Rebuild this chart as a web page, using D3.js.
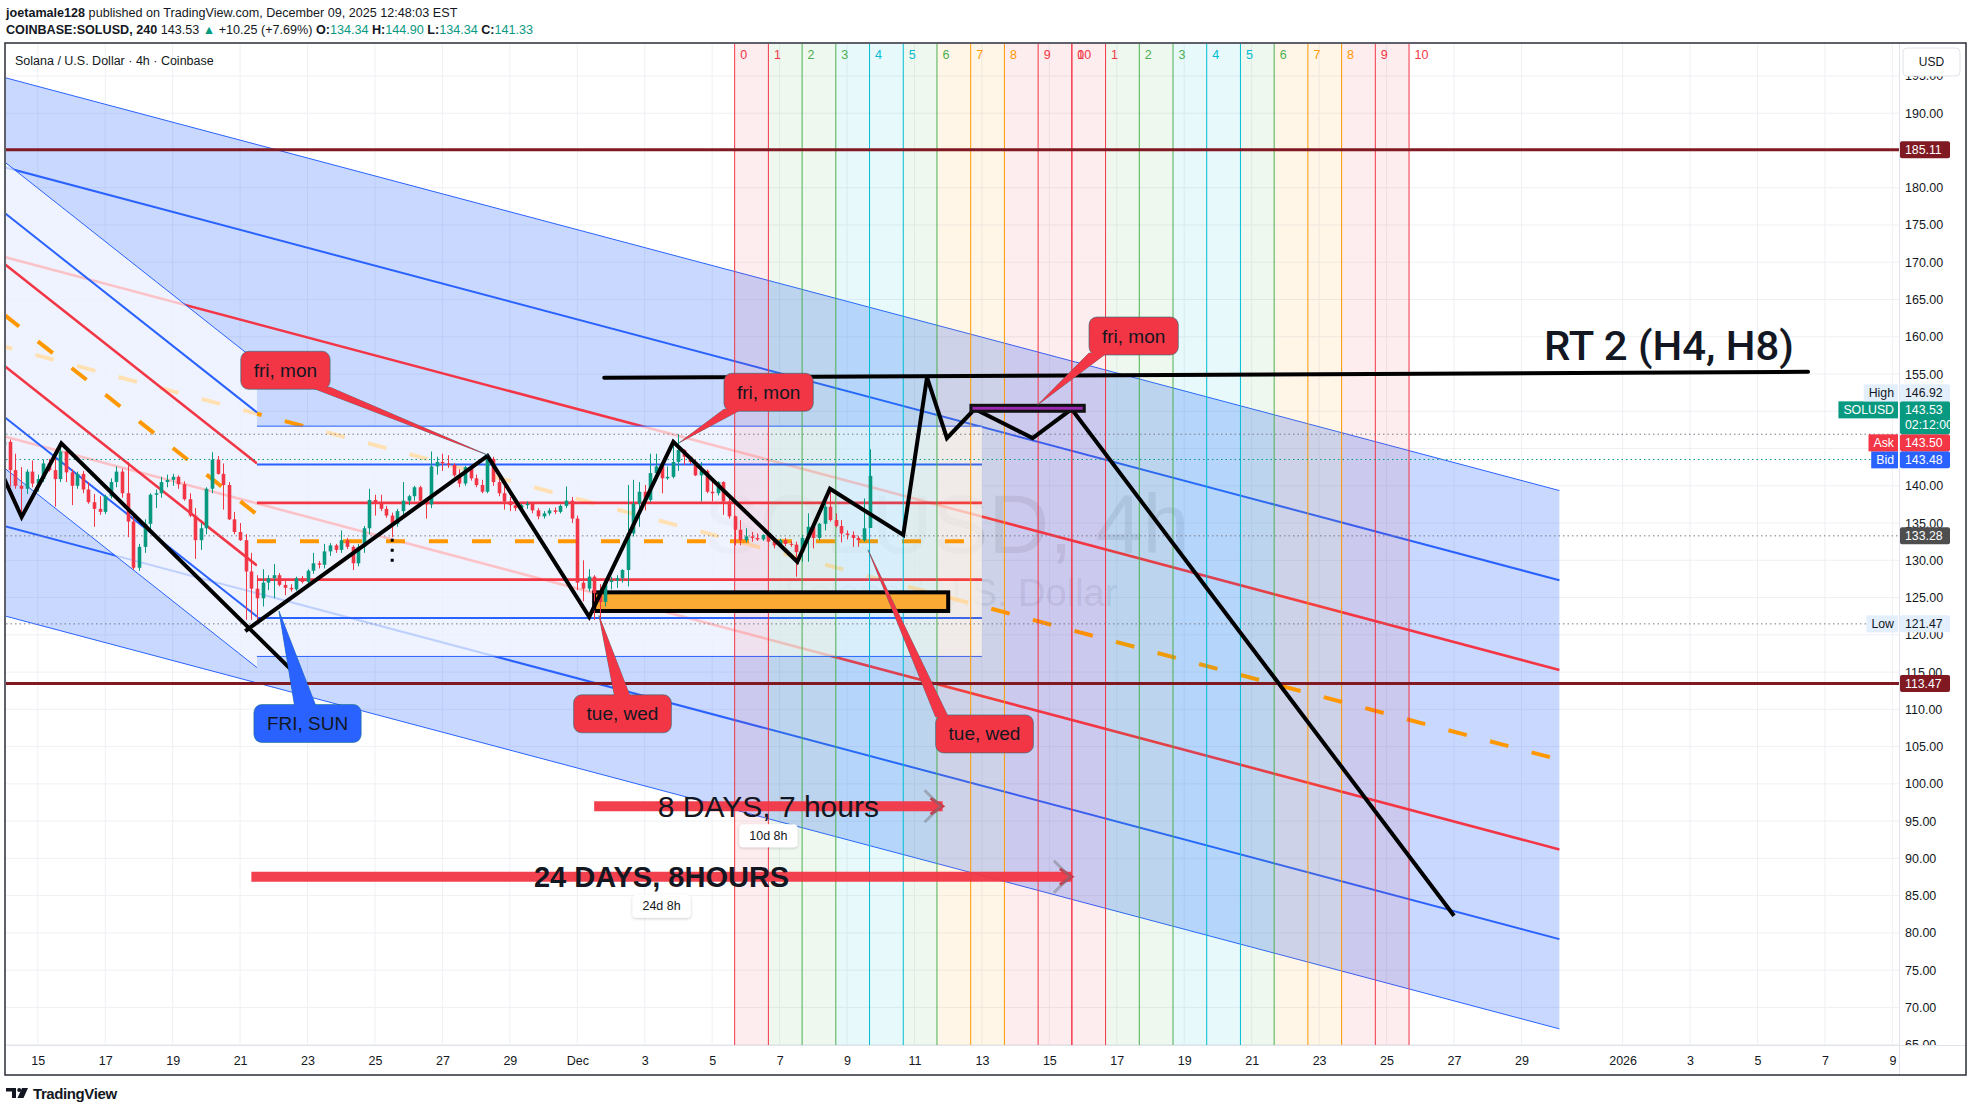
<!DOCTYPE html>
<html><head><meta charset="utf-8">
<script src="https://cdn.jsdelivr.net/npm/d3@7/dist/d3.min.js"></script>
<style>
html,body{margin:0;padding:0;background:#fff;}
svg{display:block;font-family:"Liberation Sans",Arial,sans-serif;}
</style></head><body>
<svg id="chart" width="1972" height="1112"></svg>
<script>
// ================= DATA =================
const candleStart = "2025-11-14 00:00";   // first 4h bar shown
const barHours = 4;
// [open, high, low, close] per 4h bar
const ohlc = [
[145.5,146.6,143.8,145.9],[145.9,146.2,139.9,142.1],[142.1,144.3,139.6,140.0],[140.0,142.5,135.8,139.6],
[139.6,142.2,138.9,141.9],[141.9,143.4,139.8,140.3],[140.3,141.5,139.2,140.9],[140.9,143.5,140.5,143.0],
[143.0,143.6,141.9,142.1],[142.1,144.6,137.2,140.9],[140.9,145.7,140.5,144.6],[144.6,144.9,140.5,141.8],
[141.8,142.2,137.4,140.0],[140.0,141.9,139.6,141.6],[141.6,142.0,139.0,139.5],[139.5,140.5,137.6,137.8],
[137.8,138.9,134.5,136.9],[136.9,138.6,136.1,136.5],[136.5,138.8,136.2,138.6],[138.6,141.0,138.3,140.5],
[140.5,142.6,139.8,141.9],[141.9,142.3,138.4,139.0],[139.0,143.2,133.1,135.2],[135.2,135.9,128.7,129.0],
[129.0,132.2,128.6,131.8],[131.8,135.5,131.0,134.9],[134.9,139.0,134.2,138.8],[138.8,139.5,137.0,139.0],
[139.0,141.2,138.4,140.5],[140.5,141.5,139.8,140.8],[140.8,141.6,140.0,141.2],[141.2,141.4,139.6,140.2],
[140.2,140.6,138.0,138.2],[138.2,139.0,135.8,136.0],[136.0,137.0,130.2,132.7],[132.7,135.0,131.4,134.3],
[134.3,139.8,133.5,139.6],[139.6,144.5,139.0,143.5],[143.5,144.0,141.5,141.6],[141.6,143.0,136.8,140.1],
[140.1,140.5,135.4,135.5],[135.5,136.5,133.5,133.8],[133.8,135.0,132.6,132.7],[132.7,133.5,122.0,128.5],
[128.5,131.0,122.0,126.2],[126.2,128.0,121.47,124.9],[124.9,128.8,123.8,127.0],[127.0,128.0,126.0,127.6],
[127.6,129.5,124.9,128.0],[128.0,128.3,126.5,126.7],[126.7,127.2,125.3,126.3],[126.3,126.8,125.8,126.1],
[126.1,127.8,125.9,127.6],[127.6,127.9,126.9,127.1],[127.1,128.8,126.6,128.6],[128.6,131.0,128.2,129.6],
[129.6,129.9,128.9,129.4],[129.4,132.2,128.9,131.2],[131.2,132.3,130.6,132.0],[132.0,132.2,131.0,131.4],
[131.4,134.0,131.0,132.7],[132.7,133.0,131.5,131.8],[131.8,132.0,128.7,129.6],[129.6,132.2,129.2,131.8],
[131.8,134.6,131.0,134.3],[134.3,139.6,133.5,138.1],[138.1,138.8,136.0,137.8],[137.8,138.8,136.6,136.9],
[136.9,137.3,135.7,136.0],[136.0,136.4,133.1,134.9],[134.9,136.9,134.5,136.6],[136.6,140.5,136.0,138.0],
[138.0,138.8,137.4,138.6],[138.6,140.0,138.0,139.8],[139.8,140.0,137.9,138.0],[138.0,138.2,135.6,137.5],
[137.5,144.6,137.0,142.6],[142.6,143.9,141.5,143.2],[143.2,144.3,142.0,143.0],[143.0,144.1,142.4,142.8],
[142.8,143.0,141.2,141.4],[141.4,142.2,139.8,140.3],[140.3,142.7,140.0,142.5],[142.5,142.8,140.7,141.0],
[141.0,141.5,139.8,140.1],[140.1,140.8,139.0,139.2],[139.2,144.0,139.0,143.6],[143.6,143.9,140.0,140.5],
[140.5,141.5,138.6,139.0],[139.0,140.2,136.8,137.9],[137.9,138.5,136.6,137.4],[137.4,137.7,136.6,137.0],
[137.0,137.6,136.8,137.4],[137.4,137.9,136.9,137.6],[137.6,137.8,136.3,136.7],[136.7,137.0,135.5,135.9],
[135.9,136.6,135.6,136.3],[136.3,137.0,136.0,136.7],[136.7,137.1,136.2,136.5],[136.5,137.5,136.3,137.3],
[137.3,139.9,137.0,138.0],[138.0,138.5,135.0,135.6],[135.6,136.0,126.0,127.0],[127.0,130.0,124.5,126.2],
[126.2,128.8,125.8,127.8],[127.8,128.0,122.0,125.6],[125.6,126.8,122.0,124.4],[124.4,127.4,123.8,127.1],
[127.1,127.8,126.1,127.3],[127.3,128.0,126.3,127.6],[127.6,128.8,127.0,128.7],[128.7,140.1,126.5,133.6],
[133.6,140.8,133.2,137.6],[137.6,140.5,134.5,139.2],[139.2,140.1,136.7,138.1],[138.1,144.3,137.8,141.7],
[141.7,144.3,141.0,142.6],[142.6,142.7,139.0,141.0],[141.0,142.6,140.8,141.2],[141.2,145.9,141.0,143.2],
[143.2,146.92,142.0,144.8],[144.8,144.9,142.8,143.9],[143.9,144.0,142.9,143.2],[143.2,143.5,141.3,141.4],
[141.4,143.2,137.9,142.0],[142.0,142.2,139.0,139.2],[139.2,140.8,137.9,139.0],[139.0,140.6,138.7,140.5],
[140.5,140.6,136.1,137.9],[137.9,138.8,135.6,135.9],[135.9,136.0,132.0,134.1],[134.1,135.4,132.0,132.7],
[132.7,134.3,132.4,133.2],[133.2,133.8,132.5,133.0],[133.0,133.6,132.6,132.8],[132.8,133.5,132.6,133.4],
[133.4,133.6,132.4,132.5],[132.5,133.0,131.6,132.0],[132.0,132.9,131.8,132.7],[132.7,133.0,131.9,132.2],
[132.2,132.6,131.8,132.1],[132.1,132.5,127.8,131.1],[131.1,133.4,129.8,133.0],[133.0,136.3,129.8,134.5],
[134.5,134.6,131.6,133.0],[133.0,135.0,132.7,134.9],[134.9,137.8,134.0,137.2],[137.2,139.2,135.2,135.4],
[135.4,136.3,134.4,134.6],[134.6,135.4,132.4,133.6],[133.6,134.0,132.8,133.4],[133.4,133.9,131.8,133.0],
[133.0,133.3,131.8,132.7],[132.7,138.3,132.5,134.3],[134.34,144.90,134.34,141.33]
];

const timeTickDates = ["2025-11-15","2025-11-17","2025-11-19","2025-11-21","2025-11-23","2025-11-25","2025-11-27","2025-11-29",
  "2025-12-01","2025-12-03","2025-12-05","2025-12-07","2025-12-09","2025-12-11","2025-12-13","2025-12-15","2025-12-17",
  "2025-12-19","2025-12-21","2025-12-23","2025-12-25","2025-12-27","2025-12-29","2026-01-01","2026-01-03","2026-01-05",
  "2026-01-07","2026-01-09"];
const timeTickLabels = ["15","17","19","21","23","25","27","29","Dec","3","5","7","9","11","13","15","17","19","21","23","25","27","29","2026","3","5","7","9"];
const priceTicks = [65,70,75,80,85,90,95,100,105,110,115,120,125,130,135,140,145,150,155,160,165,170,175,180,185,190,195];

// channels: anchor times, top-line prices at those times, level offsets below top
const bigChTimes = ["2025-11-10 00:00","2025-12-30 03:00"];
const bigChTop = [199.61,139.36];
const bigChOffsets = [0,12.04,24.08,36.12,48.16,60.2,72.24];
const steepChTimes = ["2025-11-10 00:00","2025-11-21 12:00"];
const steepChTop = [197.82,156.7];
const steepChOffsets = [0,6.85,13.7,20.55,27.4,34.25,41.1];
const boxChTimes = ["2025-11-21 12:00","2025-12-13 00:00"];
const boxChTop = [148.0,148.0];
const boxChOffsets = [0,5.15,10.3,15.45,20.6,25.75,30.9];

// cycle lines
const cycleStarts = ["2025-12-05 16:00","2025-12-15 16:00"];
const cycleStepHours = 24;
const cycleLabels = ["0","1","2","3","4","5","6","7","8","9","10"];
const cycleColors = ["#f23645","#f23645","#4caf50","#4caf50","#00bcd4","#00bcd4","#4caf50","#ff9800","#ff9800","#f23645","#f23645"];

// horizontal levels
const hLevels = [185.11,113.47];
const dottedLevels = [146.92,143.53,133.28,121.47];
const dottedColors = ["#787b86","#089981","#787b86","#787b86"];

// hand-drawn paths
const zigzagA = [["2025-11-14 00:00",141.0],["2025-11-14 12:30",135.8],["2025-11-15 16:45",145.7],["2025-11-22 16:15",114.6]];
const zigzagB = [["2025-11-21 03:40",120.5],["2025-11-28 08:05",144.0],["2025-12-01 08:30",122.4],["2025-12-03 20:20",145.9],
  ["2025-12-07 12:35",129.8],["2025-12-08 11:50",139.6],["2025-12-10 16:00",133.4],["2025-12-11 08:55",154.55],
  ["2025-12-11 23:05",146.4],["2025-12-12 18:50",150.3],["2025-12-14 12:05",146.4],["2025-12-15 15:50",150.3],
  ["2025-12-27 00:00",82.3]];
const rt2Line = [["2025-12-01 19:10",154.5],["2026-01-06 12:00",155.3]];
const rt2Text = {t:"2025-12-29 16:00", p:156.87, text:"RT 2 (H4, H8)"};
const orangeBox = {t0:"2025-12-01 12:00", t1:"2025-12-12 00:00", p0:125.7, p1:123.2};
const purpleBox = {t0:"2025-12-12 16:10", t1:"2025-12-16 00:50", p0:150.8, p1:150.0};
const dotMark = {t:"2025-11-25 12:15", p0:132.9, p1:129.2};

const callouts = [
  {text:"fri, mon", t:"2025-11-22 08:15", p:155.5, tipT:"2025-11-28 08:30", tipP:144.1, edge:"bottom", base:[0.78,1.0], color:"#f23645"},
  {text:"fri, mon", t:"2025-12-06 16:10", p:152.55, tipT:"2025-12-04 00:30", tipP:145.77, edge:"bottom", base:[0.0,0.2], color:"#f23645"},
  {text:"fri, mon", t:"2025-12-17 12:00", p:160.1, tipT:"2025-12-14 15:35", tipP:150.83, edge:"bottom", base:[0.0,0.2], color:"#f23645"},
  {text:"FRI, SUN", t:"2025-11-23 00:00", p:108.1, tipT:"2025-11-22 03:40", tipP:123.2, edge:"top", base:[0.38,0.58], color:"#2962ff"},
  {text:"tue, wed", t:"2025-12-02 08:10", p:109.4, tipT:"2025-12-01 15:25", tipP:122.6, edge:"top", base:[0.42,0.58], color:"#f23645"},
  {text:"tue, wed", t:"2025-12-13 01:50", p:106.7, tipT:"2025-12-09 14:55", tipP:131.4, edge:"top", base:[0.0,0.13], color:"#f23645"}
];
const measures = [
  {t0:"2025-12-01 12:00", t1:"2025-12-11 20:00", p:97.0, text:"8 DAYS, 7 hours", bold:false, tag:"10d 8h"},
  {t0:"2025-11-21 08:00", t1:"2025-12-15 16:00", p:87.53, text:"24 DAYS, 8HOURS", bold:true, tag:"24d 8h"}
];
const axisLabels = [
  {p:185.11, text:"185.11", bg:"#801922", fg:"#ffffff"},
  {p:113.47, text:"113.47", bg:"#801922", fg:"#ffffff"},
  {p:133.28, text:"133.28", bg:"#4e4e4e", fg:"#ffffff"},
  {p:121.47, text:"121.47", bg:"#e3effd", fg:"#131722", tag:"Low"},
  {p:143.48, text:"143.48", bg:"#2962ff", fg:"#ffffff", tag:"Bid"},
  {p:143.50, text:"143.50", bg:"#f23645", fg:"#ffffff", tag:"Ask"},
  {p:143.53, text:"143.53", sub:"02:12:00", bg:"#089981", fg:"#ffffff", tag:"SOLUSD"},
  {p:146.92, text:"146.92", bg:"#e3effd", fg:"#131722", tag:"High"}
];

// ================= DRAW =================
const FONT = '"Liberation Sans", Arial, sans-serif';
const pane = {l:6, r:1899, t:44, b:1045};
const P = d3.utcParse("%Y-%m-%d %H:%M");
const P2 = d3.utcParse("%Y-%m-%d");
const x = d3.scaleUtc().domain([P("2025-12-01 00:00"), P("2026-01-01 00:00")]).range([577.3, 1622.6]);
const y = d3.scaleLinear().domain([190, 70]).range([113.2, 1007.4]);
const HOUR = 3600e3;

const levelStyles = [
  {c:"#2962ff", w:1}, {c:"#2962ff", w:2}, {c:"#f23645", w:2.6}, {c:"#ff9800", w:4, dash:"19 24"},
  {c:"#f23645", w:2.6}, {c:"#2962ff", w:2}, {c:"#2962ff", w:1}
];

const svg = d3.select("#chart");
const defs = svg.append("defs");
defs.append("clipPath").attr("id","pane").append("rect")
  .attr("x",pane.l).attr("y",pane.t).attr("width",pane.r-pane.l).attr("height",pane.b-pane.t);
defs.append("clipPath").attr("id","paxis").append("rect")
  .attr("x",pane.r).attr("y",pane.t).attr("width",66).attr("height",pane.b-pane.t);
const flt = defs.append("filter").attr("id","sh").attr("x","-30%").attr("y","-40%").attr("width","160%").attr("height","190%");
flt.append("feDropShadow").attr("dx",0).attr("dy",1).attr("stdDeviation",1.6).attr("flood-color","#000").attr("flood-opacity",0.2);

svg.append("rect").attr("width",1972).attr("height",1112).attr("fill","#fff");

const g = svg.append("g").attr("clip-path","url(#pane)");

// grid
timeTickDates.forEach(d=>{
  const xx = x(P2(d));
  g.append("line").attr("x1",xx).attr("x2",xx).attr("y1",pane.t).attr("y2",pane.b).attr("stroke","#eef0f4").attr("stroke-width",1);
});
priceTicks.forEach(p=>{
  g.append("line").attr("x1",pane.l).attr("x2",pane.r).attr("y1",y(p)).attr("y2",y(p)).attr("stroke","#eef0f4").attr("stroke-width",1);
});

// watermark
const wmx = (pane.l+pane.r)/2 - 6;
g.append("text").attr("x",wmx).attr("y",y(131.0)).attr("text-anchor","middle").attr("font-size",84)
  .attr("fill","rgba(42,46,57,0.11)").attr("font-family",FONT).text("SOLUSD, 4h");
g.append("text").attr("x",wmx+4).attr("y",y(123.9)).attr("text-anchor","middle").attr("font-size",38)
  .attr("fill","rgba(42,46,57,0.11)").attr("font-family",FONT).text("Solana / U.S. Dollar");

// channels
function channel(times, top, offsets, fill, op){
  const t0=P(times[0]), t1=P(times[1]);
  const n=offsets.length-1;
  const poly=[[x(t0),y(top[0])],[x(t1),y(top[1])],[x(t1),y(top[1]-offsets[n])],[x(t0),y(top[0]-offsets[n])]];
  g.append("path").attr("d","M"+poly.join("L")+"Z").attr("fill",fill).attr("fill-opacity",op);
  offsets.forEach((o,i)=>{
    const s=levelStyles[i];
    g.append("line").attr("x1",x(t0)).attr("y1",y(top[0]-o)).attr("x2",x(t1)).attr("y2",y(top[1]-o))
      .attr("stroke",s.c).attr("stroke-width",s.w).attr("stroke-dasharray",s.dash||null);
  });
}
channel(bigChTimes, bigChTop, bigChOffsets, "#2962ff", 0.25);
channel(steepChTimes, steepChTop, steepChOffsets, "#ffffff", 0.7);
channel(boxChTimes, boxChTop, boxChOffsets, "#ffffff", 0.7);

// cycle bands
cycleStarts.forEach(st=>{
  const t0=P(st).getTime();
  cycleLabels.forEach((lab,k)=>{
    if(k>0){
      const xk = x(new Date(t0+k*cycleStepHours*HOUR));
      const xp = x(new Date(t0+(k-1)*cycleStepHours*HOUR));
      g.append("rect").attr("x",xp).attr("y",pane.t).attr("width",xk-xp).attr("height",pane.b-pane.t)
        .attr("fill",cycleColors[k]).attr("fill-opacity",0.09);
    }
  });
});
cycleStarts.forEach(st=>{
  const t0=P(st).getTime();
  cycleLabels.forEach((lab,k)=>{
    const xk = x(new Date(t0+k*cycleStepHours*HOUR));
    g.append("line").attr("x1",xk).attr("x2",xk).attr("y1",pane.t).attr("y2",pane.b).attr("stroke",cycleColors[k]).attr("stroke-width",1);
    g.append("text").attr("x",xk+5.5).attr("y",58.5).attr("font-size",12.5).attr("fill",cycleColors[k]).attr("font-family",FONT).text(lab);
  });
});

// horizontal dark-red levels
hLevels.forEach(p=>{
  g.append("line").attr("x1",pane.l).attr("x2",pane.r).attr("y1",y(p)).attr("y2",y(p)).attr("stroke","#801922").attr("stroke-width",3);
});
// dotted price lines
dottedLevels.forEach((p,i)=>{
  g.append("line").attr("x1",pane.l).attr("x2",pane.r).attr("y1",y(p)).attr("y2",y(p))
    .attr("stroke",dottedColors[i]).attr("stroke-width",1).attr("stroke-dasharray","1.5 3");
});

// orange box
g.append("rect").attr("x",x(P(orangeBox.t0))).attr("y",y(orangeBox.p0))
  .attr("width",x(P(orangeBox.t1))-x(P(orangeBox.t0))).attr("height",y(orangeBox.p1)-y(orangeBox.p0))
  .attr("fill","#fbab34").attr("stroke","#000").attr("stroke-width",4);

// candles
const cs = P(candleStart).getTime();
const cg = g.append("g");
ohlc.forEach((d,i)=>{
  const [o,h,l,c]=d;
  const xx = Math.round(x(new Date(cs+i*barHours*HOUR)))+0.5;
  const col = c>=o ? "#089981" : "#f23645";
  cg.append("line").attr("x1",xx).attr("x2",xx).attr("y1",y(h)).attr("y2",y(l)).attr("stroke",col).attr("stroke-width",1);
  const yt=y(Math.max(o,c)), yb=y(Math.min(o,c));
  cg.append("rect").attr("x",xx-1.8).attr("y",yt).attr("width",3.6).attr("height",Math.max(1,yb-yt)).attr("fill",col);
});

// dotted black mark
g.append("line").attr("x1",x(P(dotMark.t))).attr("x2",x(P(dotMark.t))).attr("y1",y(dotMark.p0)).attr("y2",y(dotMark.p1))
  .attr("stroke","#000").attr("stroke-width",3).attr("stroke-dasharray","3 7");

// zigzags, RT2 line, purple box
const lineGen = d3.line().x(d=>x(P(d[0]))).y(d=>y(d[1]));
[zigzagA, zigzagB].forEach(z=>{
  g.append("path").attr("d",lineGen(z)).attr("fill","none").attr("stroke","#000").attr("stroke-width",4).attr("stroke-linejoin","miter");
});
g.append("path").attr("d",lineGen(rt2Line)).attr("fill","none").attr("stroke","#000").attr("stroke-width",4).attr("stroke-linecap","round");
g.append("rect").attr("x",x(P(purpleBox.t0))).attr("y",y(purpleBox.p0))
  .attr("width",x(P(purpleBox.t1))-x(P(purpleBox.t0))).attr("height",y(purpleBox.p1)-y(purpleBox.p0))
  .attr("fill","#9c27b0").attr("stroke","#111").attr("stroke-width",3);

// measures
measures.forEach(m=>{
  const x0=x(P(m.t0)), x1=x(P(m.t1)), yc=y(m.p), xm=(x0+x1)/2;
  g.append("line").attr("x1",x0).attr("x2",x1).attr("y1",yc).attr("y2",yc).attr("stroke","#f23645").attr("stroke-width",10).attr("stroke-opacity",0.95);
  g.append("path").attr("d",`M${x1-12},${yc-8}L${x1},${yc}L${x1-12},${yc+8}`).attr("fill","none").attr("stroke","#d62f3e").attr("stroke-width",3);
  g.append("path").attr("d",`M${x1-18},${yc-16}L${x1-2},${yc}L${x1-18},${yc+16}`).attr("fill","none").attr("stroke","rgba(120,123,134,0.5)").attr("stroke-width",3);
  g.append("text").attr("x",xm).attr("y",yc+10.5).attr("text-anchor","middle").attr("font-size",m.bold?29:30)
    .attr("font-weight",m.bold?"bold":"normal").attr("fill","#131722").attr("font-family",FONT).text(m.text);
  const tg=g.append("g");
  const tt=tg.append("text").attr("x",xm).attr("y",yc+33.5).attr("text-anchor","middle").attr("font-size",12.5).attr("fill","#131722").attr("font-family",FONT).text(m.tag);
  const tw=tt.node().getComputedTextLength();
  tg.insert("rect","text").attr("x",xm-tw/2-10).attr("y",yc+18).attr("width",tw+20).attr("height",23).attr("rx",4)
    .attr("fill","#fff").attr("filter","url(#sh)");
});

// callouts
callouts.forEach(c=>{
  const grp=g.append("g");
  const cx=x(P(c.t)), cy=y(c.p);
  const txt=grp.append("text").attr("x",cx).attr("y",cy+6.5).attr("text-anchor","middle").attr("font-size",19)
    .attr("fill","#131722").attr("font-family",FONT).text(c.text);
  const tw=txt.node().getComputedTextLength();
  const w=tw+26, h=38, L=cx-w/2, T=cy-h/2;
  const ey = c.edge==="bottom" ? T+h-2 : T+2;
  const b0=[L+w*c.base[0], ey], b1=[L+w*c.base[1], ey];
  const tip=[x(P(c.tipT)), y(c.tipP)];
  const ptr="M"+b0+"L"+tip+"L"+b1+"Z";
  grp.insert("path","text").attr("d",ptr).attr("fill",c.color).attr("stroke","rgba(20,110,120,0.55)").attr("stroke-width",1);
  grp.insert("rect","text").attr("x",L).attr("y",T).attr("width",w).attr("height",h).attr("rx",8)
    .attr("fill",c.color).attr("stroke","rgba(20,110,120,0.55)").attr("stroke-width",1);
  grp.insert("path","text").attr("d",ptr).attr("fill",c.color);
});

// RT2 text
g.append("text").attr("x",x(P(rt2Text.t))).attr("y",y(rt2Text.p)).attr("font-size",40).attr("font-weight",500)
  .attr("fill","#131722").attr("font-family",'Roboto, "Liberation Sans", Arial, sans-serif')
  .attr("textLength",250).attr("lengthAdjust","spacingAndGlyphs").text(rt2Text.text);

// ---------- price-axis label layout (stacked like the platform) ----------
const stack = axisLabels.map(a=>({...a, h: a.sub?33:17})).sort((a,b)=>a.p-b.p);
let prevTop = Infinity;
const placed=[];
stack.forEach(a=>{
  let c=y(a.p);
  if(c + a.h/2 > prevTop && Math.abs(c-prevTop)<40) c = prevTop - a.h/2;
  placed.push({...a, top:c-a.h/2});
  prevTop = c - a.h/2;
});
const hiddenTick = p => placed.some(a => y(p) > a.top-4 && y(p) < a.top+a.h+4 && (a.sub || a.tag==="Ask" || a.tag==="Bid"));

// ---------- axes ----------
const xAxis = d3.axisBottom(x).tickValues(timeTickDates.map(d=>P2(d))).tickFormat((d,i)=>timeTickLabels[i]).tickSize(0).tickPadding(11.5);
const xa = svg.append("g").attr("transform",`translate(0,${pane.b})`).call(xAxis);
xa.select(".domain").remove();
xa.attr("font-family",FONT).attr("font-size",12.5);
xa.selectAll("text").attr("fill","#131722");

const yAxis = d3.axisRight(y).tickValues(priceTicks.filter(p=>!hiddenTick(p))).tickFormat(d3.format(".2f")).tickSize(0).tickPadding(6);
const yaWrap = svg.append("g").attr("clip-path","url(#paxis)");
const ya = yaWrap.append("g").attr("transform",`translate(${pane.r},0)`).call(yAxis);
ya.select(".domain").remove();
ya.attr("font-family",FONT).attr("font-size",12.5);
ya.selectAll("text").attr("fill","#131722");

// separators & frame
svg.append("line").attr("x1",pane.r+0.5).attr("x2",pane.r+0.5).attr("y1",pane.t).attr("y2",1075).attr("stroke","#e0e3eb");
svg.append("line").attr("x1",pane.l).attr("x2",1966).attr("y1",pane.b+0.5).attr("y2",pane.b+0.5).attr("stroke","#e0e3eb");
svg.append("rect").attr("x",5).attr("y",43).attr("width",1961).attr("height",1032).attr("fill","none").attr("stroke","#2a2e39").attr("stroke-width",1.5);

// USD box
svg.append("rect").attr("x",1903).attr("y",48).attr("width",57).attr("height",28).attr("rx",4).attr("fill","#fff").attr("stroke","#e0e3eb");
svg.append("text").attr("x",1931.5).attr("y",66).attr("text-anchor","middle").attr("font-size",12).attr("fill","#131722").attr("font-family",FONT).text("USD");

// price-axis labels
const al = svg.append("g").attr("font-family",FONT);
placed.forEach(a=>{
  al.append("rect").attr("x",1900).attr("y",a.top).attr("width",50).attr("height",a.h).attr("rx",2).attr("fill",a.bg);
  al.append("text").attr("x",1905).attr("y",a.top+12.8).attr("font-size",12.3).attr("fill",a.fg).text(a.text);
  if(a.sub) al.append("text").attr("x",1905).attr("y",a.top+27.3).attr("font-size",12.3).attr("fill",a.fg).text(a.sub);
  if(a.tag){
    const t=al.append("text").attr("x",1894).attr("y",a.top+12.8).attr("text-anchor","end").attr("font-size",12.3).attr("fill",a.fg).text(a.tag);
    const tw=t.node().getComputedTextLength();
    al.insert("rect","text").attr("x",1898-tw-9).attr("y",a.top).attr("width",tw+9).attr("height",17).attr("fill",a.bg);
  }
});

// header
const hd = svg.append("g").attr("font-family",FONT).attr("font-size",12.6).attr("fill","#131722");
const h1 = hd.append("text").attr("x",6).attr("y",16.5);
h1.append("tspan").attr("font-weight","bold").text("joetamale128");
h1.append("tspan").text(" published on TradingView.com, December 09, 2025 12:48:03 EST");
const h2 = hd.append("text").attr("x",6).attr("y",33.5);
h2.append("tspan").attr("font-weight","bold").text("COINBASE:SOLUSD, 240");
h2.append("tspan").text("  143.53 ");
h2.append("tspan").attr("fill","#089981").text("▲");
h2.append("tspan").text(" +10.25 (+7.69%) ");
[["O:","134.34"],["H:","144.90"],["L:","134.34"],["C:","141.33"]].forEach(([k,v],i)=>{
  h2.append("tspan").attr("font-weight","bold").text((i?" ":"")+k);
  h2.append("tspan").attr("fill","#089981").text(v);
});
svg.append("text").attr("x",15).attr("y",65).attr("font-family",FONT).attr("font-size",12.5).attr("fill","#131722")
  .text("Solana / U.S. Dollar · 4h · Coinbase");

// logo
const lg = svg.append("g");
lg.append("path").attr("d","M6,1088h10v10h-4v-6.5h-6z").attr("fill","#131722");
lg.append("circle").attr("cx",19.2).attr("cy",1090).attr("r",2).attr("fill","#131722");
lg.append("path").attr("d","M22,1088h6l-4.5,10h-6z").attr("fill","#131722");
lg.append("text").attr("x",33).attr("y",1098.5).attr("font-family",FONT).attr("font-size",15).attr("font-weight","bold")
  .attr("fill","#131722").attr("letter-spacing","-0.4").text("TradingView");
</script></body></html>
